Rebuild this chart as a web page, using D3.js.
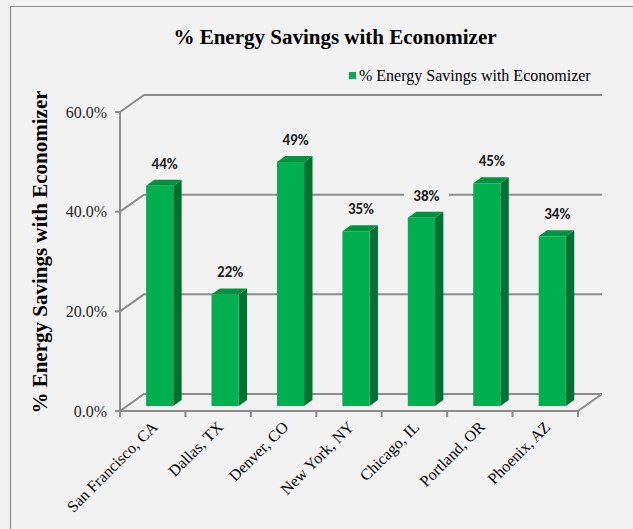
<!DOCTYPE html>
<html><head><meta charset="utf-8">
<script src="https://cdn.jsdelivr.net/npm/d3@7"></script>
<style>html,body{margin:0;padding:0;background:#f2f2f2;}svg{display:block;}</style>
</head><body>
<script>
const categories = ["San Francisco, CA","Dallas, TX","Denver, CO","New York, NY","Chicago, IL","Portland, OR","Phoenix, AZ"];
const values = [0.442, 0.224, 0.490, 0.351, 0.378, 0.447, 0.341];
const valueLabels = ["44%","22%","49%","35%","38%","45%","34%"];
const yTicks = [0, 0.2, 0.4, 0.6];
const seriesName = "% Energy Savings with Economizer";
const chartTitle = "% Energy Savings with Economizer";
const yTitle = "% Energy Savings with Economizer";

const W = 633, H = 529;
const svg = d3.select("body").append("svg").attr("width", W).attr("height", H);
svg.append("rect").attr("width", W).attr("height", H).attr("fill", "#f2f2f2");
// chart border
svg.append("path").attr("d", `M10.5,${H+5} L10.5,6.5 L${W+5},6.5`).attr("fill","none").attr("stroke","#8c8c8c").attr("stroke-width",1.2);

const DX = 24, DY = -17;
const x = d3.scaleBand().domain(categories).range([120, 578]).paddingInner(0.585).paddingOuter(0.2925);
const y = d3.scaleLinear().domain([0, 0.6]).range([411, 112]);
const P = (px, v, d) => [px + d*DX, y(v) + d*DY];
const [x0, x1] = x.range();
const gridColor = "#8c8c8c";

const g = svg.append("g");
// back wall gridlines with left-wall diagonals
yTicks.forEach(t => {
  const a = P(x0, t, 0), b = P(x0, t, 1), c = P(x1, t, 1);
  g.append("path").attr("d", `M${a} L${b} L${c}`).attr("fill","none").attr("stroke",gridColor).attr("stroke-width",2);
});
// floor
{
  const a = P(x0,0,0), b = P(x1,0,0), c = P(x1,0,1);
  g.append("path").attr("d", `M${a} L${b} L${c}`).attr("fill","none").attr("stroke",gridColor).attr("stroke-width",2);
}
// y axis front line + ticks
g.append("line").attr("x1",x0).attr("x2",x0).attr("y1",y(0)).attr("y2",y(0.6)).attr("stroke",gridColor).attr("stroke-width",2);
yTicks.forEach(t => {
  g.append("line").attr("x1",x0-5).attr("x2",x0).attr("y1",y(t)).attr("y2",y(t)).attr("stroke",gridColor).attr("stroke-width",2);
  g.append("text").attr("x",107).attr("y",y(t)).attr("dy","0.35em").attr("text-anchor","end")
    .attr("font-family","'Liberation Serif','Times New Roman',serif").attr("font-size",16).attr("fill","#262626")
    .text(d3.format(".1%")(t));
});
// category ticks
const step = x.step();
d3.range(categories.length+1).forEach(i => {
  const tx = x0 + i*step;
  g.append("line").attr("x1",tx).attr("x2",tx).attr("y1",y(0)).attr("y2",y(0)+6).attr("stroke",gridColor).attr("stroke-width",2);
});

// bars
const dF = 0.29, dB = 0.64;
const bw = x.bandwidth();
categories.forEach((c, i) => {
  const v = values[i];
  const xl = x(c), xr = x(c) + bw;
  const fBL = P(xl,0,dF), fBR = P(xr,0,dF), fTL = P(xl,v,dF), fTR = P(xr,v,dF);
  const bBR = P(xr,0,dB), bTL = P(xl,v,dB), bTR = P(xr,v,dB);
  g.append("path").attr("d",`M${fBR} L${bBR} L${bTR} L${fTR} Z`).attr("fill","#007133");
  g.append("path").attr("d",`M${fTL} L${fTR} L${bTR} L${bTL} Z`).attr("fill","#00933f");
  g.append("path").attr("d",`M${fBL} L${fBR} L${fTR} L${fTL} Z`).attr("fill","#00b050");
  // label
  const cx = (fTL[0]+fTR[0])/2 + 5;
  const by = bTL[1] - 11;
  g.append("rect").attr("x",cx-22.5).attr("y",by-17).attr("width",45).attr("height",22).attr("fill","#f2f2f2");
  g.append("text").attr("x",cx).attr("y",by).attr("text-anchor","middle")
    .attr("font-family","Carlito,Lato,'Open Sans',sans-serif").attr("font-weight","bold").attr("font-size",15).attr("fill","#1a1a1a")
    .text(valueLabels[i]);
  // category label
  const lx = x(c) + bw/2 + 2, ly = 424;
  g.append("text").attr("transform",`translate(${lx},${ly}) rotate(-45)`).attr("text-anchor","end").attr("dy","0.35em")
    .attr("font-family","'Liberation Serif','Times New Roman',serif").attr("font-size",16).attr("fill","#000")
    .text(c);
});

// title
svg.append("text").attr("x",335).attr("y",44).attr("text-anchor","middle")
  .attr("font-family","'Liberation Serif','Times New Roman',serif").attr("font-weight","bold").attr("font-size",21).attr("fill","#000")
  .text(chartTitle);
// y title
svg.append("text").attr("transform","translate(47,252) rotate(-90)").attr("text-anchor","middle")
  .attr("font-family","'Liberation Serif','Times New Roman',serif").attr("font-weight","bold").attr("font-size",21).attr("fill","#000")
  .text(yTitle);
// legend
svg.append("rect").attr("x",349).attr("y",72).attr("width",7).attr("height",7).attr("fill","#00b050");
svg.append("text").attr("x",359).attr("y",81)
  .attr("font-family","'Liberation Serif','Times New Roman',serif").attr("font-size",16).attr("fill","#000")
  .text(seriesName);
</script>
</body></html>
